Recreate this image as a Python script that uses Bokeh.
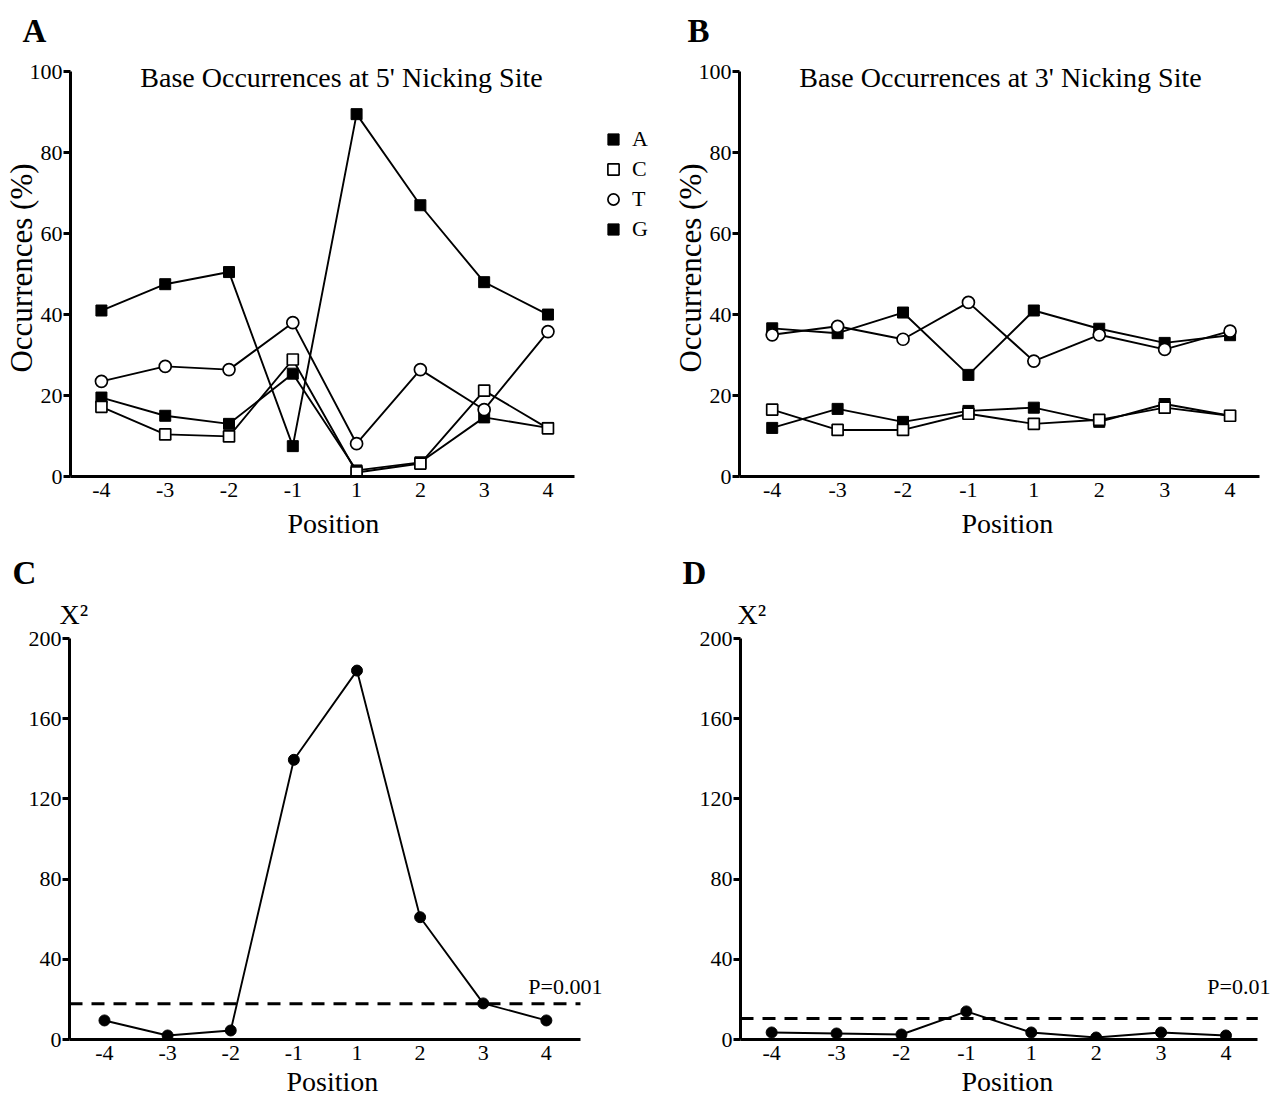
from bokeh.plotting import figure
from bokeh.layouts import column, row
from bokeh.models import Label, Legend, LegendItem, FixedTicker, Title
from bokeh.embed import file_html
from bokeh.resources import INLINE

# ---------------- data ----------------
positions = ["-4", "-3", "-2", "-1", "1", "2", "3", "4"]
xi = list(range(len(positions)))

# Panel A: base occurrences (%) at 5' nicking site
a5 = [41, 47.5, 50.5, 7.5, 89.5, 67, 48, 40]
c5 = [17.2, 10.4, 9.9, 28.9, 1.0, 3.2, 21.2, 11.9]
t5 = [23.5, 27.2, 26.4, 38.0, 8.1, 26.4, 16.5, 35.8]
g5 = [19.5, 15.0, 13.0, 25.4, 1.5, 3.5, 14.6, 12.0]

# Panel B: base occurrences (%) at 3' nicking site
a3 = [36.6, 35.4, 40.5, 25.1, 41.0, 36.5, 33.0, 34.9]
c3 = [16.5, 11.5, 11.5, 15.5, 13.0, 14.0, 17.0, 15.0]
t3 = [35.0, 37.1, 33.9, 43.0, 28.5, 35.0, 31.4, 35.9]
g3 = [12.0, 16.7, 13.5, 16.2, 17.0, 13.5, 17.9, 15.0]

# Panels C, D: chi-square values
chi5 = [9.5, 2.0, 4.5, 139.5, 184.0, 61.0, 18.0, 9.5]
chi3 = [3.5, 3.0, 2.5, 14.0, 3.5, 1.0, 3.5, 2.0]
p5_level = 17.8
p3_level = 10.5
p5_text = "P=0.001"
p3_text = "P=0.01"

pct_ticks = [0, 20, 40, 60, 80, 100]
chi_ticks = [0, 40, 80, 120, 160, 200]

FONT = "Liberation Serif"


def base_fig(width, height, left, right, top, bottom, xr, xbounds, yr, ybounds, yticks):
    p = figure(width=width, height=height, x_range=xr, y_range=yr, title=None,
               output_backend="svg", toolbar_location=None,
               min_border_left=left, min_border_right=right,
               min_border_top=top, min_border_bottom=bottom)
    p.outline_line_color = None
    p.grid.visible = False
    p.background_fill_color = "white"
    p.border_fill_color = "white"
    for ax in (p.xaxis[0], p.yaxis[0]):
        ax.axis_line_width = 3
        ax.axis_line_color = "black"
        ax.minor_tick_line_color = None
        ax.major_label_text_font = FONT
        ax.major_label_text_font_size = "22px"
        ax.major_label_text_color = "black"
        ax.axis_label_text_font = FONT
        ax.axis_label_text_font_style = "normal"
        ax.axis_label_text_color = "black"
    xa = p.xaxis[0]
    xa.bounds = xbounds
    xa.ticker = FixedTicker(ticks=xi)
    xa.major_label_overrides = {i: s for i, s in enumerate(positions)}
    xa.major_tick_line_color = None
    xa.major_tick_out = 0
    xa.major_tick_in = 0
    xa.major_label_standoff = 6
    ya = p.yaxis[0]
    ya.bounds = ybounds
    ya.ticker = FixedTicker(ticks=yticks)
    ya.major_tick_out = 7
    ya.major_tick_in = 0
    ya.major_tick_line_width = 3
    ya.major_label_standoff = 1
    return p


def lab(p, x, y, text, size, style="normal", align="center", baseline="middle"):
    p.add_layout(Label(x=x, y=y, x_units="screen", y_units="screen", text=text,
                       text_font=FONT, text_font_size=size, text_font_style=style,
                       text_align=align, text_baseline=baseline, text_color="black"))


def head(p, text, size, offset, standoff, style="normal", place="above"):
    p.add_layout(Title(text=text, align="left", offset=offset, standoff=standoff,
                       text_font=FONT, text_font_size=size, text_font_style=style,
                       text_color="black"), place)


def occ_panel(width, left, right, xr, xbounds, series, title, letter, title_x, letter_off,
              pos_off, legend=False):
    p = base_fig(width, 555, left, right, 59, 79, xr, xbounds, (0, 103), (0, 100), pct_ticks)
    head(p, "Position", "28px", pos_off, 12, place="below")
    p.yaxis[0].axis_label = "Occurrences (%)"
    p.yaxis[0].axis_label_text_font_size = "31px"
    p.yaxis[0].axis_label_standoff = -12
    a, c, t, g = series
    for ys in (a, g, c, t):
        p.line(xi, ys, line_color="black", line_width=1.9)
    rends = {}
    rends["A"] = p.scatter(xi, a, marker="square", size=11, fill_color="black", line_color="black")
    rends["G"] = p.scatter(xi, g, marker="square", size=11, fill_color="black", line_color="black")
    rends["C"] = p.scatter(xi, c, marker="square", size=11, fill_color="white", line_color="black", line_width=1.7)
    rends["T"] = p.scatter(xi, t, marker="circle", size=12, fill_color="white", line_color="black", line_width=1.7)
    lab(p, title_x, 399, title, "28px")
    head(p, letter, "33px", letter_off, 21, style="bold")
    if legend:
        leg = Legend(items=[LegendItem(label=k, renderers=[rends[k]]) for k in ("A", "C", "T", "G")],
                     location=(529, 233), orientation="vertical",
                     glyph_width=28, glyph_height=28, label_height=28, spacing=2,
                     label_standoff=5, padding=0, margin=0,
                     border_line_color=None, background_fill_alpha=0,
                     label_text_font=FONT, label_text_font_size="22px",
                     label_text_color="black", label_text_baseline="middle")
        p.add_layout(leg, "center")
    return p


def chi_panel(width, left, right, xr, xbounds, values, level, ptext, p_x, letter, letter_off,
              x_off, pos_off):
    p = base_fig(width, 542, left, right, 82, 58, xr, xbounds, (0, 200), (0, 200), chi_ticks)
    head(p, "Position", "28px", pos_off, 2, place="below")
    # significance threshold, drawn across the x-axis extent
    p.line([xbounds[0], xbounds[1]], [level, level], line_color="black",
           line_width=3, line_dash="13 9")
    p.line(xi, values, line_color="black", line_width=1.9)
    p.scatter(xi, values, marker="circle", size=11, fill_color="black", line_color="black")
    lab(p, p_x, 53, ptext, "22px", align="right")
    head(p, "X\u00b2", "28px", x_off, 18)
    head(p, letter, "33px", letter_off, -6, style="bold")
    return p


pA = occ_panel(657, 69, 2, (-0.485, 8.686), (-0.485, 7.42), (a5, c5, t5, g5),
               "Base Occurrences at 5' Nicking Site", "A", 271, -48, 217, legend=True)
pB = occ_panel(622, 82, 20, (-0.50, 7.45), (-0.50, 7.45), (a3, c3, t3, g3),
               "Base Occurrences at 3' Nicking Site", "B", 261, -52, 222)

pC = chi_panel(657, 69, 48, (-0.554, 8.0), (-0.554, 7.54), chi5, p5_level, p5_text, 533,
               "C", -57, -10, 217)
pD = chi_panel(622, 83, 4, (-0.48, 7.763), (-0.48, 7.49), chi3, p3_level, p3_text, 530,
               "D", -58, -3, 221)

layout = column(row(pA, pB), row(pC, pD))
open("out.html", "w").write(file_html(layout, INLINE))
